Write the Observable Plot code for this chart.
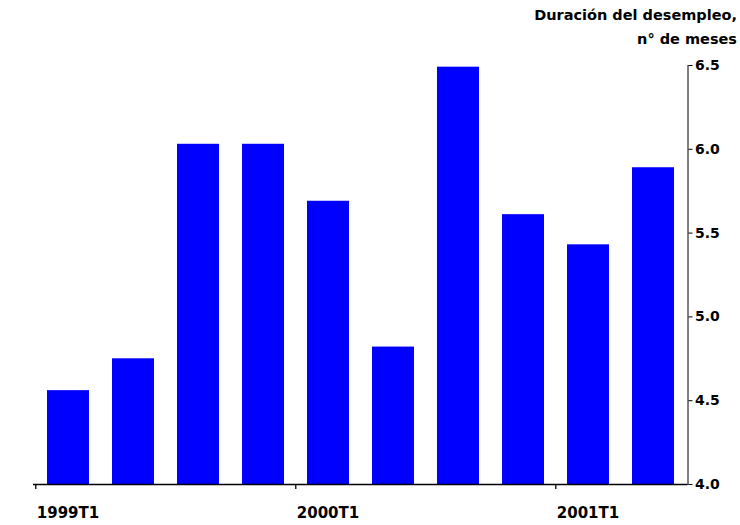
<!DOCTYPE html>
<html>
<head>
<meta charset="utf-8">
<script src="https://cdn.jsdelivr.net/npm/d3@7"></script>
<script src="https://cdn.jsdelivr.net/npm/@observablehq/plot@0.6"></script>
<style>
  body { margin: 0; background: #fff; font-family: "DejaVu Sans", Verdana, sans-serif; }
  #title { height: 52px; box-sizing: border-box; padding: 3px 3px 0 0; text-align: right;
           font-weight: bold; font-size: 14.5px; line-height: 24px; color: #000; }
  #chart svg g[aria-label="y-axis tick label"] { font-size: 14px; font-weight: bold; }
</style>
</head>
<body>
<div id="title">Duración del desempleo,<br>n° de meses</div>
<div id="chart"></div>
<script>
const quarters = ["1999T1","1999T2","1999T3","1999T4","2000T1","2000T2","2000T3","2000T4","2001T1","2001T2"];
const durations = [4.56, 4.75, 6.03, 6.03, 5.69, 4.82, 6.49, 5.61, 5.43, 5.89];
const xTickLabels = ["1999T1", "2000T1", "2001T1"];
const yTicks = [4.0, 4.5, 5.0, 5.5, 6.0, 6.5];

const data = quarters.map((q, i) => ({quarter: q, value: durations[i]}));

const W = 740, H = 473, ML = 33, MR = 52.5;
const step = (W - ML - MR) / quarters.length;

const chart = Plot.plot({
  width: W,
  height: H,
  marginTop: 13,
  marginBottom: 41,
  marginLeft: ML,
  marginRight: MR,
  style: {fontFamily: "DejaVu Sans, Verdana, sans-serif", fontWeight: "bold", fontSize: "14px", color: "#000", background: "#fff"},
  x: {type: "band", domain: quarters, paddingInner: 0.36, paddingOuter: 0.18},
  y: {domain: [4, 6.5], axis: "right", line: true, ticks: yTicks, tickFormat: d3.format(".1f"), tickSize: 4, tickPadding: 3, label: null},
  marks: [
    Plot.barY(data, {x: "quarter", y1: 4, y2: "value", fill: "#0000ff"}),
    Plot.ruleY([4], {stroke: "#000", strokeWidth: 1.3}),
    Plot.axisX(xTickLabels, {tickSize: 5, tickFormat: () => "", dx: -step / 2, strokeWidth: 1.3, label: null}),
    Plot.axisX(xTickLabels, {tickSize: 0, tickPadding: 23, textAnchor: "start", dx: -step / 2 + 1, fontSize: 15, fontWeight: "bold", label: null})
  ]
});
document.getElementById("chart").appendChild(chart);
</script>
</body>
</html>
